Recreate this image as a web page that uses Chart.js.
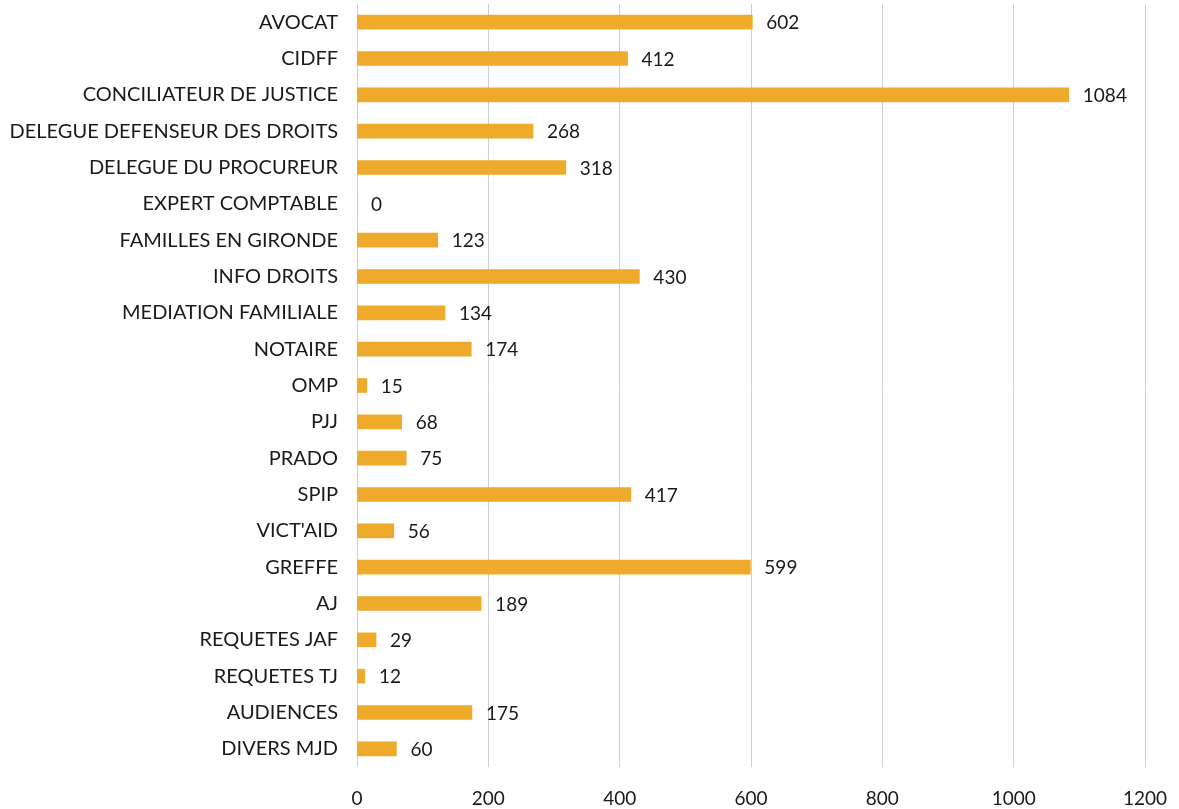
<!DOCTYPE html>
<html>
<head>
<meta charset="utf-8">
<script src="https://cdn.jsdelivr.net/npm/chart.js@4.4.1/dist/chart.umd.min.js"></script>
<style>
html,body{margin:0;padding:0;background:#fff;}
#wrap{width:1179px;height:809px;position:relative;}
</style>
</head>
<body>
<div id="wrap"><canvas id="c" width="1179" height="809"></canvas></div>
<script>
const categories = ["AVOCAT","CIDFF","CONCILIATEUR DE JUSTICE","DELEGUE DEFENSEUR DES DROITS","DELEGUE DU PROCUREUR","EXPERT COMPTABLE","FAMILLES EN GIRONDE","INFO DROITS","MEDIATION FAMILIALE","NOTAIRE","OMP","PJJ","PRADO","SPIP","VICT'AID","GREFFE","AJ","REQUETES JAF","REQUETES TJ","AUDIENCES","DIVERS MJD"];
const values = [602,412,1084,268,318,0,123,430,134,174,15,68,75,417,56,599,189,29,12,175,60];
const xTicks = [0,200,400,600,800,1000,1200];

const FONT = "Lato, 'Liberation Sans', sans-serif";

const valueLabels = {
  id: 'valueLabels',
  afterDatasetsDraw(chart) {
    const ctx = chart.ctx;
    const meta = chart.getDatasetMeta(0);
    ctx.save();
    ctx.font = "19px " + FONT;
    ctx.fillStyle = "#1a1a1a";
    ctx.textAlign = "left";
    ctx.textBaseline = "middle";
    meta.data.forEach((bar, i) => {
      ctx.fillText(String(values[i]), bar.x + 14, bar.y + 1);
    });
    ctx.restore();
  }
};

new Chart(document.getElementById('c'), {
  type: 'bar',
  data: {
    labels: categories,
    datasets: [{
      data: values,
      backgroundColor: '#EEAA2A',
      borderWidth: 0,
      barThickness: 14
    }]
  },
  options: {
    indexAxis: 'y',
    responsive: false,
    animation: false,
    layout: { padding: { top: 4, right: 34, left: 0, bottom: 0 } },
    plugins: { legend: { display: false }, tooltip: { enabled: false } },
    scales: {
      x: {
        min: 0, max: 1200,
        afterBuildTicks(axis) { axis.ticks = xTicks.map(v => ({ value: v })); },
        afterFit(axis) { axis.height = 42; axis.paddingLeft = 0; axis.paddingRight = 0; },
        grid: { color: '#cfcfcf', lineWidth: 1, drawTicks: false },
        border: { display: false },
        ticks: { padding: 20, color: '#1a1a1a', font: { family: FONT, size: 19 },
                 callback: (v) => String(v) }
      },
      y: {
        afterFit(axis) { axis.width = 357; axis.paddingTop = 0; axis.paddingBottom = 0; },
        grid: { display: false },
        border: { display: false },
        ticks: { padding: 11, color: '#1a1a1a', font: { family: FONT, size: 20 }, autoSkip: false }
      }
    }
  },
  plugins: [valueLabels]
});
</script>
</body>
</html>
